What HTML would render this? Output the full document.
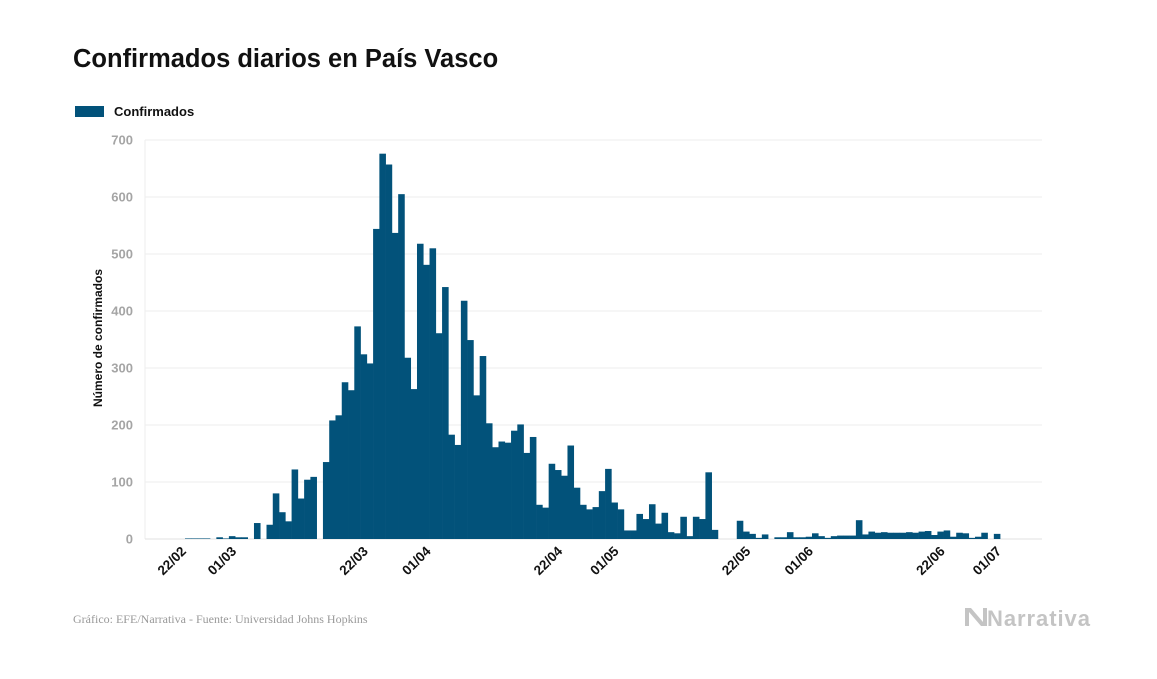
<!DOCTYPE html>
<html><head><meta charset="utf-8"><style>
body{margin:0;background:#fff;width:1157px;height:674px;overflow:hidden;font-family:"Liberation Sans",sans-serif}
</style></head><body>
<svg width="1157" height="674" id="c" xmlns="http://www.w3.org/2000/svg">
<text x="73" y="67" font-size="25.5" font-weight="bold" fill="#111">Confirmados diarios en País Vasco</text>
<rect x="75" y="106" width="29" height="11" fill="#02527a"/>
<text x="114" y="116" font-size="13" font-weight="bold" fill="#111">Confirmados</text>
<text transform="translate(102,338) rotate(-90)" text-anchor="middle" font-size="12" font-weight="bold" fill="#111">Número de confirmados</text>
<g id="grid"></g><g id="bars"></g><g id="xt"></g>
<text x="73" y="623" font-family="Liberation Serif,serif" font-size="12" fill="#999">Gráfico: EFE/Narrativa - Fuente: Universidad Johns Hopkins</text>
<g>
<path d="M965 608 L971 608 L983 622 L983 608 L987 608 L987 626 L981 626 L969 612 L969 626 L965 626 Z" fill="#c4c4c4"/>
<text x="987" y="626" font-size="22" font-weight="bold" fill="#c4c4c4" textLength="103">Narrativa</text>
</g>
</svg>
<script>
const yTicks=[0,100,200,300,400,500,600,700];
const xTickLabels=["22/02","01/03","22/03","01/04","22/04","01/05","22/05","01/06","22/06","01/07"];
const xTickDays=[0,8,29,39,60,69,90,100,121,130];
const values=[1,1,1,1,0,3,1,5,3,3,0,28,0,25,80,47,31,122,71,104,109,0,135,208,217,275,261,373,324,308,544,676,657,537,605,318,263,518,481,510,361,442,183,165,418,349,252,321,203,161,171,169,190,201,151,179,60,55,132,121,111,164,90,60,52,56,84,123,64,52,15,15,44,35,61,27,46,12,10,39,5,39,35,117,16,0,0,0,32,13,9,2,8,0,3,3,12,3,3,4,10,5,2,5,6,6,6,33,8,13,11,12,11,11,11,12,11,13,14,7,13,15,4,11,10,2,4,11,0,9];
const NS="http://www.w3.org/2000/svg";
const x0=185,step=6.27,yBase=539,yScale=0.57;
const xs=i=>x0+i*step, ys=v=>yBase-v*yScale;
const grid=document.getElementById('grid'),bars=document.getElementById('bars'),xt=document.getElementById('xt');
function mk(tag,attrs,parent){const e=document.createElementNS(NS,tag);for(const k in attrs)e.setAttribute(k,attrs[k]);parent.appendChild(e);return e;}
mk('line',{x1:145,x2:145,y1:140,y2:539,stroke:'#eeeeee'},grid);
yTicks.forEach(t=>{
  const l=mk('line',{x1:145,x2:1042,y1:ys(t),y2:ys(t),stroke:t===0?'#e2e2e2':'#eeeeee','stroke-width':1},grid);
  
  
  const tx=mk('text',{x:133,y:ys(t)+4.5,'text-anchor':'end','font-size':13,'font-weight':'bold',fill:'#a5a5a5'},grid);
  tx.textContent=t;
  
  
});
values.forEach((v,i)=>{
  if(v<=0)return;
  const r=mk('rect',{x:xs(i),y:ys(v),width:step+0.3,height:v*yScale,fill:'#02527a'},bars);
  
  
});
xTickLabels.forEach((lab,k)=>{
  const cx=xs(xTickDays[k])+2;
  const t=mk('text',{transform:`translate(${cx},${552}) rotate(-45)`,'text-anchor':'end','font-size':13.5,'font-weight':'bold',fill:'#111'},xt);
  t.textContent=lab;
  
  
});
</script>
</body></html>
